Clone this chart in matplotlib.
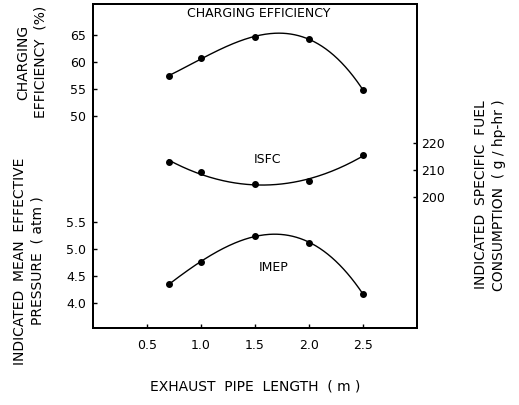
import numpy as np
import matplotlib
matplotlib.use("Agg")
import matplotlib.pyplot as plt

plt.rcParams['font.family'] = ['DejaVu Sans']

# exhaust pipe length (m)
pipe_length = [0.7, 1.0, 1.5, 2.0, 2.5]
# charging efficiency (%)
charging_eff = [57.4, 60.7, 64.6, 64.3, 54.8]
# indicated specific fuel consumption (g/hp-hr)
isfc = [213.1, 209.3, 204.7, 205.9, 215.6]
# indicated mean effective pressure (atm)
imep = [4.35, 4.76, 5.25, 5.12, 4.17]

x_ticks = [0.5, 1.0, 1.5, 2.0, 2.5]
eff_ticks = [50, 55, 60, 65]
imep_ticks = [4.0, 4.5, 5.0, 5.5]
isfc_ticks = [200, 210, 220]


def smooth(xs, ys, deg):
    c = np.polyfit(xs, ys, deg)
    xx = np.linspace(min(xs), max(xs), 200)
    return xx, np.polyval(c, xx)


fig = plt.figure(figsize=(5.19, 4.05), dpi=100)
rect = [93 / 519, 1 - 328 / 405, (417 - 93) / 519, (328 - 4) / 405]
ax = fig.add_axes(rect)
ax_imep = ax.twinx()
ax_isfc = ax.twinx()

fs = 9

# charging efficiency
xx, yy = smooth(pipe_length, charging_eff, 3)
ax.plot(xx, yy, color='black', lw=1.0)
ax.plot(pipe_length, charging_eff, 'o', color='black', ms=4)
ax.set_xlim(0, 3.0)
ax.set_ylim(10.74, 70.74)
ax.set_yticks(eff_ticks)
ax.set_yticklabels([str(t) for t in eff_ticks])
ax.set_xticks(x_ticks)
ax.set_xticklabels(['%.1f' % t for t in x_ticks])
ax.tick_params(axis='both', direction='in', length=3, width=1, labelsize=fs)
ax.tick_params(axis='y', pad=5)
ax.tick_params(axis='x', pad=8)

# IMEP shares the left side with its own scale
xx, yy = smooth(pipe_length, imep, 3)
ax_imep.plot(xx, yy, color='black', lw=1.0)
ax_imep.plot(pipe_length, imep, 'o', color='black', ms=4)
ax_imep.set_ylim(3.54, 9.54)
ax_imep.yaxis.tick_left()
ax_imep.set_yticks(imep_ticks)
ax_imep.set_yticklabels(['%.1f' % t for t in imep_ticks])
ax_imep.tick_params(axis='y', direction='in', length=3, width=1, labelsize=fs, pad=5)
for s in ax_imep.spines.values():
    s.set_visible(False)

# ISFC on the right
xx, yy = smooth(pipe_length, isfc, 2)
ax_isfc.plot(xx, yy, color='black', lw=1.0)
ax_isfc.plot(pipe_length, isfc, 'o', color='black', ms=4)
ax_isfc.set_ylim(151.5, 271.5)
ax_isfc.set_yticks(isfc_ticks)
ax_isfc.tick_params(axis='y', direction='in', length=3, width=1, labelsize=fs, pad=3)

for a in (ax, ax_isfc):
    for s in a.spines.values():
        s.set_linewidth(1.4)

# curve labels
ax.text(1.53, 69.0, 'CHARGING EFFICIENCY', ha='center', va='center', fontsize=fs)
ax.text(1.62, 42.0, 'ISFC', ha='center', va='center', fontsize=fs)
ax.text(1.67, 21.9, 'IMEP', ha='center', va='center', fontsize=fs)

# axis titles
fig.text(32 / 519, 1 - 62 / 405, 'CHARGING\nEFFICIENCY  (%)', rotation=90,
         ha='center', va='center', fontsize=10, linespacing=1.3)
fig.text(29 / 519, 1 - 261 / 405, 'INDICATED  MEAN  EFFECTIVE\nPRESSURE  ( atm )', rotation=90,
         ha='center', va='center', fontsize=10, linespacing=1.3)
fig.text(490 / 519, 1 - 195 / 405, 'INDICATED  SPECIFIC  FUEL\nCONSUMPTION  ( g / hp-hr )', rotation=90,
         ha='center', va='center', fontsize=10, linespacing=1.3)
fig.text(255 / 519, 1 - 387 / 405, 'EXHAUST  PIPE  LENGTH  ( m )',
         ha='center', va='center', fontsize=10)

fig.savefig('out.png', dpi=100)
